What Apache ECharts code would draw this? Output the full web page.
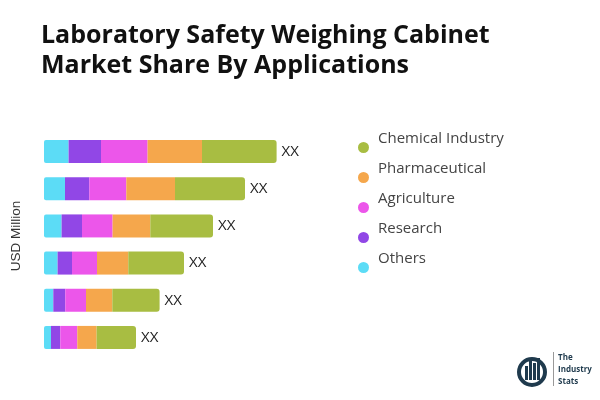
<!DOCTYPE html>
<html><head><meta charset="utf-8">
<script src="https://cdn.jsdelivr.net/npm/echarts@6/dist/echarts.min.js"></script>
<style>html,body{margin:0;padding:0;background:#fff}#c{width:600px;height:400px}</style>
</head><body><div id="c"></div>
<script>
const title = 'Laboratory Safety Weighing Cabinet\nMarket Share By Applications';
const categories = ['Group 1', 'Group 2', 'Group 3', 'Group 4', 'Group 5', 'Group 6'];
const seriesNames = ['Others', 'Research', 'Agriculture', 'Pharmaceutical', 'Chemical Industry'];
const others = [24.6, 21, 17.6, 13.6, 9.3, 7];
const research = [32.4, 24.3, 20.4, 14.4, 12, 9.3];
const agriculture = [46.6, 37, 30.6, 25, 20.7, 17];
const pharmaceutical = [54.4, 48.7, 37.7, 31.3, 26.3, 19.3];
const chemical = [74.6, 70, 62.7, 55.7, 47.3, 39.4];
const colors = ['#5cdcf6', '#9147e6', '#ec56ea', '#f5a74c', '#a8bd42'];
const valueLabel = 'XX';
const yName = 'USD Million';
const legendOrder = ['Chemical Industry', 'Pharmaceutical', 'Agriculture', 'Research', 'Others'];

const data = [others, research, agriculture, pharmaceutical, chemical];
const series = seriesNames.map((n, i) => ({
  name: n, type: 'bar', stack: 'total', data: data[i], barWidth: 23,
  itemStyle: { color: colors[i], borderRadius: i === 4 ? [0, 3, 3, 0] : (i === 0 ? [2, 0, 0, 2] : 0) },
  label: i === 4 ? { show: true, position: 'right', formatter: valueLabel, color: '#222', fontSize: 15, fontFamily: 'Open Sans', distance: 5 } : { show: false },
  emphasis: { disabled: true }
}));

const chart = echarts.init(document.getElementById('c'), null, { renderer: 'canvas' });
chart.setOption({
  animation: false,
  title: { text: title, left: 36, top: 16, textStyle: { fontFamily: 'Open Sans', fontWeight: 'bold', fontSize: 25, lineHeight: 30, color: '#111' } },
  legend: {
    data: legendOrder, orient: 'vertical', left: 353, top: 126, itemGap: 8, itemWidth: 11, itemHeight: 11,
    icon: 'circle',
    formatter: '{t|{name}}',
    textStyle: { fontFamily: 'Open Sans', fontSize: 15, color: '#444',
      rich: { t: { fontFamily: 'Open Sans', fontSize: 15, color: '#444', padding: [0, 0, 18, 4] } } }
  },
  grid: { left: 44, top: 133, width: 300, height: 223 },
  xAxis: { type: 'value', min: 0, max: 300, show: false },
  yAxis: {
    type: 'category', data: categories, inverse: true,
    axisLine: { show: false }, axisTick: { show: false }, axisLabel: { show: false },
    name: yName, nameLocation: 'middle', nameGap: 21, nameRotate: 90,
    nameTextStyle: { fontFamily: 'Liberation Sans', fontSize: 13.5, color: '#333', padding: [0, 0, 0, 17] }
  },
  series: series,
  graphic: [
    { type: 'ring', shape: { cx: 532, cy: 372, r: 15, r0: 11 }, style: { fill: '#1f3a4d' } },
    { type: 'rect', shape: { x: 525, y: 366, width: 3, height: 14 }, style: { fill: '#1f3a4d' } },
    { type: 'rect', shape: { x: 529, y: 361, width: 3, height: 19 }, style: { fill: '#1f3a4d' } },
    { type: 'rect', shape: { x: 533, y: 363, width: 3, height: 17 }, style: { fill: '#1f3a4d' } },
    { type: 'rect', shape: { x: 537, y: 358, width: 3, height: 22 }, style: { fill: '#1f3a4d' } },
    { type: 'rect', shape: { x: 553, y: 352, width: 1, height: 34 }, style: { fill: '#999' } },
    { type: 'text', left: 558, top: 352, style: { text: 'The\nIndustry\nStats', fontFamily: 'Open Sans', fontWeight: 'bold', fontSize: 8, lineHeight: 12, fill: '#1f3a4d' } }
  ]
});
</script></body></html>
